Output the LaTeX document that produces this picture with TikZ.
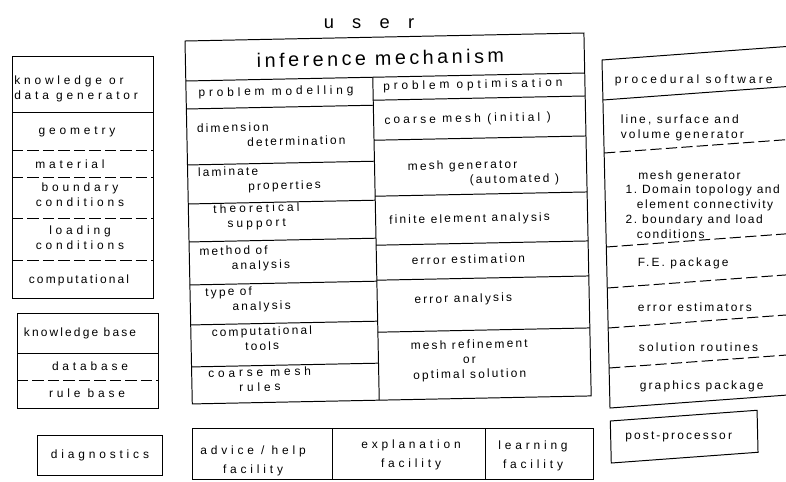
\documentclass[tikz,border=0pt]{standalone}
\usepackage{fontspec}
\usepackage{tikz}
\newfontfamily\lblfont[LetterSpace=18]{Liberation Sans}
\newfontfamily\midfont[LetterSpace=26]{Liberation Sans}
\newfontfamily\widefont[LetterSpace=32]{Liberation Sans}
\newfontfamily\listfont[LetterSpace=13]{Liberation Sans}

\begin{document}
\begin{tikzpicture}[
  x=0.025cm, y=-0.025cm,
  font=\lblfont\fontsize{8.5}{10.5}\selectfont,
  box/.style={draw, line width=0.7pt},
  solidln/.style={line width=0.7pt},
  dashln/.style={line width=0.7pt, dash pattern=on 8pt off 3pt},
  lbl/.style={inner sep=0pt, align=center},
  lbll/.style={inner sep=0pt, align=left, anchor=west},
  wide/.style={font=\widefont\fontsize{8.5}{10.5}\selectfont},
  mid/.style={font=\midfont\fontsize{8.5}{10.5}\selectfont},
  botlbl/.style={lbl, font=\widefont\fontsize{8.5}{14}\selectfont},
  listlbl/.style={lbll, font=\listfont\fontsize{8.5}{10.6}\selectfont},
  headlbl/.style={inner sep=0pt, font=\lblfont\fontsize{14}{16}\selectfont},
  userlbl/.style={inner sep=0pt, font=\widefont\fontsize{13}{15}\selectfont},
]
\useasboundingbox (0,0) rectangle (786,481);
\clip (0,0) rectangle (786,481);

\node[userlbl] (user) at (369,24) {u\quad s\quad e\quad r};

% Left: knowledge or data generator
\draw[box] (12,56) rectangle (153,298);
\draw[solidln] (12,112) -- (153,112);
\foreach \yy in {150,177,218,260} \draw[dashln] (12,\yy) -- (153,\yy);
\node[lbll, wide] (kgen) at (14,89) {knowledge or\\data generator};
\node[lbl, wide] (geom) at (77,132) {geometry};
\node[lbl, wide] (mat) at (70,164) {material};
\node[lbl, wide] (bcond) at (80,195) {boundary\\conditions};
\node[lbl, wide] (lcond) at (80,238) {loading\\conditions};
\node[lbl] (comp) at (79,280) {computational};

% Left: knowledge base
\draw[box] (17,313) rectangle (158,408);
\draw[solidln] (17,353) -- (158,353);
\draw[dashln] (17,380) -- (158,380);
\node[lbl] (kbase) at (80,333) {knowledge base};
\node[lbl, wide] (dbase) at (90,366) {database};
\node[lbl, wide] (rbase) at (87,393) {rule base};

\draw[box] (37,435) rectangle (162,475);
\node[lbl, wide] (diag) at (100,455) {diagnostics};

% Middle: inference mechanism
\begin{scope}[rotate around={1.15:(185,41)}, transform shape]
\draw[box] (185,41) rectangle (584,404);
\draw[solidln] (185,81) -- (584,81);
\draw[solidln] (372,81) -- (372,404);
\foreach \yy in {109,165,204,242,285,325,367} \draw[solidln] (185,\yy) -- (372,\yy);
\foreach \yy in {104,144,200,249,284,336} \draw[solidln] (372,\yy) -- (584,\yy);
\node[headlbl] (infmech) at (380,62) {inference mechanism};
% problem modelling
\node[lbl, wide] (probmod) at (275,94) {problem modelling};
\node[lbll] (dimdet) at (195,136) {dimension\\\hspace*{1.25cm}determination};
\node[lbll] (lamprop) at (195,181) {laminate\\\hspace*{1.25cm}properties};
\node[lbl, mid] (theosup) at (253,218) {theoretical\\support};
\node[lbll] (methana) at (195,260) {method of\\\hspace*{0.8cm}analysis};
\node[lbll] (typeana) at (200,301) {type of\\\hspace*{0.67cm}analysis};
\node[lbl] (comptools) at (256,340) {computational\\tools};
\node[lbl, wide] (coarserules) at (253,381) {coarse mesh\\rules};
% problem optimisation
\node[lbl, wide] (probopt) at (472,91) {problem optimisation};
\node[lbl, mid] (coarseinit) at (466,125) {coarse mesh (initial )};
\node[lbll] (meshauto) at (405,179) {mesh generator\\\hspace*{1.54cm}(automated )};
\node[lbl] (feana) at (466,225) {finite element analysis};
\node[lbl] (errest) at (464,265) {error estimation};
\node[lbl] (errana) at (458,305) {error analysis};
\node[lbl] (meshref) at (463,366) {mesh refinement\\or\\optimal solution};
\end{scope}

% Bottom: facilities
\draw[box] (192,428) rectangle (593,479);
\draw[solidln] (332,428) -- (332,479);
\draw[solidln] (485,428) -- (485,479);
\node[botlbl] (advice) at (253,461) {advice / help\\facility};
\node[botlbl] (expl) at (411,455) {explanation\\facility};
\node[botlbl] (learn) at (533,456) {learning\\facility};

% Right: procedural software
\begin{scope}[shift={(602,60)}, xslant=-0.023, yslant=0.073]
\draw[box] (0,0) rectangle (200,348);
\draw[solidln] (0,40) -- (200,40);
\foreach \yy in {93,187,228,268,308} \draw[dashln] (0,\yy) -- (200,\yy);
\node[lbll, mid] (proc) at (12,21) {procedural software};
\node[lbll] (lsvgen) at (17,69) {line, surface and\\volume generator};
\node[listlbl] (meshgen) at (20,146) {\hspace*{9pt}mesh generator\\1.~Domain topology and\\\hspace*{8pt}element connectivity\\2.~boundary and load\\\hspace*{8pt}conditions};
\node[lbll] (fepack) at (31,206) {F.E. package};
\node[lbll] (errestim) at (30,249) {error estimators};
\node[lbll] (solrout) at (30,289) {solution routines};
\node[lbll] (graph) at (30,329) {graphics package};
\draw[box] (0,361) rectangle (147,403);
\node[lbl] (post) at (68,382) {post\,-\,processor};
\end{scope}
\end{tikzpicture}
\end{document}
